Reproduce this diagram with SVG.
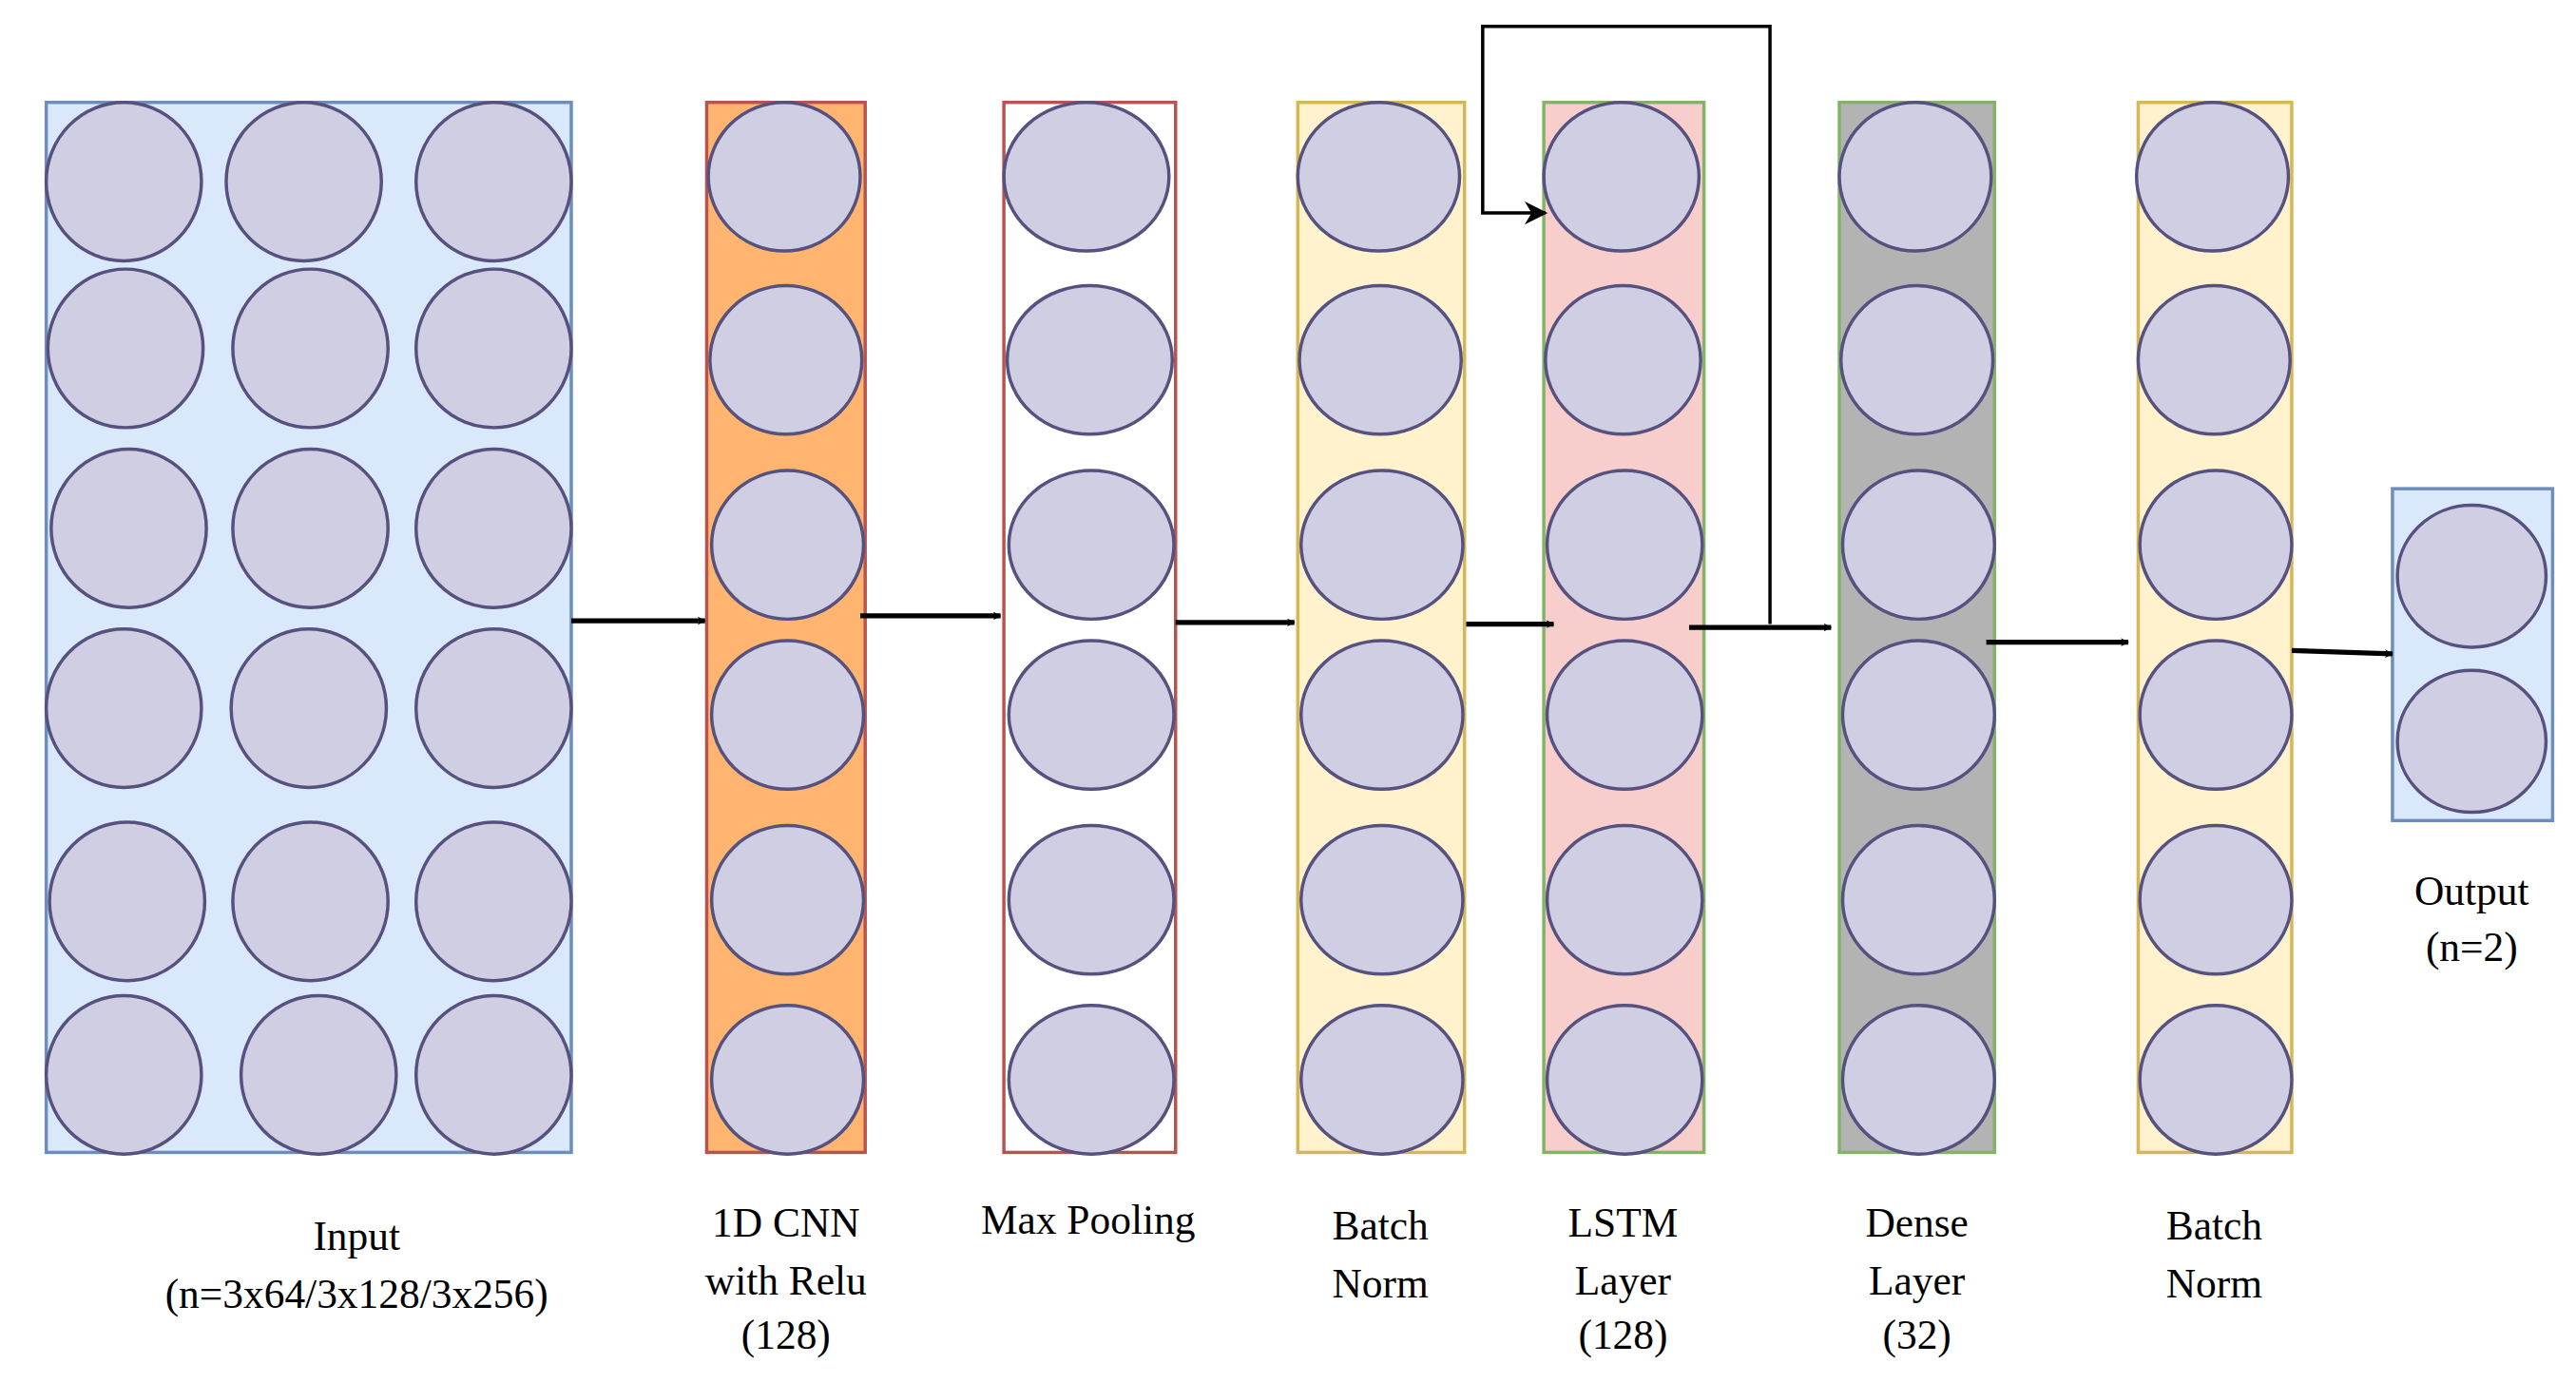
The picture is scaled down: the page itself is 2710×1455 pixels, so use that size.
<svg xmlns="http://www.w3.org/2000/svg" width="2710" height="1455" viewBox="0 0 2710 1455">
<defs>
<style>
.n{fill:#d0cee2;stroke:#56517e;stroke-width:2}
.t{font-family:"Liberation Serif",serif;font-size:25px;text-anchor:middle;fill:#000}
.a{stroke:#000;stroke-width:3;fill:none}
.f{stroke:#000;stroke-width:2;fill:none}
</style>
<marker id="ar" viewBox="0 0 10 10" refX="9" refY="5" markerWidth="5" markerHeight="5" orient="auto" markerUnits="userSpaceOnUse"><path d="M0,0 L10,5 L0,10 L3,5 Z" fill="#000"/></marker>
<marker id="ah" viewBox="0 0 10 10" refX="9" refY="5" markerWidth="7" markerHeight="7" orient="auto"><path d="M0,0 L10,5 L0,10 L3,5 Z" fill="#000"/></marker>
</defs>
<rect width="2710" height="1455" fill="#fff"/>
<g transform="scale(1.737)">
<g id="input">
<rect x="28" y="62" width="318" height="636" fill="#dae8fc" stroke="#6c8ebf" stroke-width="2"/>
<ellipse class="n" cx="75" cy="110" rx="47" ry="48"/><ellipse class="n" cx="184" cy="110" rx="47" ry="48"/><ellipse class="n" cx="299" cy="110" rx="47" ry="48"/>
<ellipse class="n" cx="76" cy="211" rx="47" ry="48"/><ellipse class="n" cx="188" cy="211" rx="47" ry="48"/><ellipse class="n" cx="299" cy="211" rx="47" ry="48"/>
<ellipse class="n" cx="78" cy="320" rx="47" ry="48"/><ellipse class="n" cx="188" cy="320" rx="47" ry="48"/><ellipse class="n" cx="299" cy="320" rx="47" ry="48"/>
<ellipse class="n" cx="75" cy="429" rx="47" ry="48"/><ellipse class="n" cx="187" cy="429" rx="47" ry="48"/><ellipse class="n" cx="299" cy="429" rx="47" ry="48"/>
<ellipse class="n" cx="77" cy="546" rx="47" ry="48"/><ellipse class="n" cx="188" cy="546" rx="47" ry="48"/><ellipse class="n" cx="299" cy="546" rx="47" ry="48"/>
<ellipse class="n" cx="75" cy="651" rx="47" ry="48"/><ellipse class="n" cx="193" cy="651" rx="47" ry="48"/><ellipse class="n" cx="299" cy="651" rx="47" ry="48"/>
<text class="t" x="216" y="757">Input</text><text class="t" x="216" y="792">(n=3x64/3x128/3x256)</text>
</g>
<g id="cnn">
<rect x="428" y="62" width="96" height="636" fill="#ffb570" stroke="#b85450" stroke-width="2"/>
<ellipse class="n" cx="475" cy="107" rx="46" ry="45"/><ellipse class="n" cx="476" cy="218" rx="46" ry="45"/><ellipse class="n" cx="477" cy="330" rx="46" ry="45"/><ellipse class="n" cx="477" cy="433" rx="46" ry="45"/><ellipse class="n" cx="477" cy="545" rx="46" ry="45"/><ellipse class="n" cx="477" cy="654" rx="46" ry="45"/>
<text class="t" x="476" y="749">1D CNN</text><text class="t" x="476" y="784">with Relu</text><text class="t" x="476" y="817">(128)</text>
</g>
<g id="maxpool">
<rect x="608" y="62" width="104" height="636" fill="#fff" stroke="#b85450" stroke-width="2"/>
<ellipse class="n" cx="658" cy="107" rx="50" ry="45"/><ellipse class="n" cx="660" cy="218" rx="50" ry="45"/><ellipse class="n" cx="661" cy="330" rx="50" ry="45"/><ellipse class="n" cx="661" cy="433" rx="50" ry="45"/><ellipse class="n" cx="661" cy="545" rx="50" ry="45"/><ellipse class="n" cx="661" cy="654" rx="50" ry="45"/>
<text class="t" x="659" y="747">Max Pooling</text>
</g>
<g id="bn1">
<rect x="786" y="62" width="101" height="636" fill="#fff2cc" stroke="#d6b656" stroke-width="2"/>
<ellipse class="n" cx="835" cy="107" rx="49" ry="45"/><ellipse class="n" cx="836" cy="218" rx="49" ry="45"/><ellipse class="n" cx="837" cy="330" rx="49" ry="45"/><ellipse class="n" cx="837" cy="433" rx="49" ry="45"/><ellipse class="n" cx="837" cy="545" rx="49" ry="45"/><ellipse class="n" cx="837" cy="654" rx="49" ry="45"/>
<text class="t" x="836" y="751">Batch</text><text class="t" x="836" y="786">Norm</text>
</g>
<g id="lstm">
<rect x="935" y="62" width="97" height="636" fill="#f8cecc" stroke="#82b366" stroke-width="2"/>
<ellipse class="n" cx="982" cy="107" rx="47" ry="45"/><ellipse class="n" cx="983" cy="218" rx="47" ry="45"/><ellipse class="n" cx="984" cy="330" rx="47" ry="45"/><ellipse class="n" cx="984" cy="433" rx="47" ry="45"/><ellipse class="n" cx="984" cy="545" rx="47" ry="45"/><ellipse class="n" cx="984" cy="654" rx="47" ry="45"/>
<text class="t" x="983" y="749">LSTM</text><text class="t" x="983" y="784">Layer</text><text class="t" x="983" y="817">(128)</text>
</g>
<g id="dense">
<rect x="1114" y="62" width="94" height="636" fill="#b3b3b3" stroke="#82b366" stroke-width="2"/>
<ellipse class="n" cx="1160" cy="107" rx="46" ry="45"/><ellipse class="n" cx="1161" cy="218" rx="46" ry="45"/><ellipse class="n" cx="1162" cy="330" rx="46" ry="45"/><ellipse class="n" cx="1162" cy="433" rx="46" ry="45"/><ellipse class="n" cx="1162" cy="545" rx="46" ry="45"/><ellipse class="n" cx="1162" cy="654" rx="46" ry="45"/>
<text class="t" x="1161" y="749">Dense</text><text class="t" x="1161" y="784">Layer</text><text class="t" x="1161" y="817">(32)</text>
</g>
<g id="bn2">
<rect x="1295" y="62" width="93" height="636" fill="#fff2cc" stroke="#d6b656" stroke-width="2"/>
<ellipse class="n" cx="1340" cy="107" rx="46" ry="45"/><ellipse class="n" cx="1341" cy="218" rx="46" ry="45"/><ellipse class="n" cx="1342" cy="330" rx="46" ry="45"/><ellipse class="n" cx="1342" cy="433" rx="46" ry="45"/><ellipse class="n" cx="1342" cy="545" rx="46" ry="45"/><ellipse class="n" cx="1342" cy="654" rx="46" ry="45"/>
<text class="t" x="1341" y="751">Batch</text><text class="t" x="1341" y="786">Norm</text>
</g>
<g id="output">
<rect x="1449" y="296" width="97" height="201" fill="#dae8fc" stroke="#6c8ebf" stroke-width="2"/>
<ellipse class="n" cx="1497" cy="349" rx="45" ry="43"/><ellipse class="n" cx="1497" cy="449" rx="45" ry="43"/>
<text class="t" x="1497" y="548">Output</text><text class="t" x="1497" y="582">(n=2)</text>
</g>
<g id="connectors">
<line class="a" x1="346" y1="376" x2="427" y2="376" marker-end="url(#ar)"/>
<line class="a" x1="521" y1="373" x2="606" y2="373" marker-end="url(#ar)"/>
<line class="a" x1="712" y1="377" x2="784" y2="377" marker-end="url(#ar)"/>
<line class="a" x1="888" y1="378" x2="941" y2="378" marker-end="url(#ar)"/>
<line class="a" x1="1023" y1="380" x2="1109" y2="380" marker-end="url(#ar)"/>
<path class="f" d="M1072,378 V16 H898 V129 H936" marker-end="url(#ah)"/>
<line class="a" x1="1203" y1="389" x2="1289" y2="389" marker-end="url(#ar)"/>
<path class="a" d="M1388,394 L1449,396" marker-end="url(#ar)"/>
</g>
</g>
</svg>
